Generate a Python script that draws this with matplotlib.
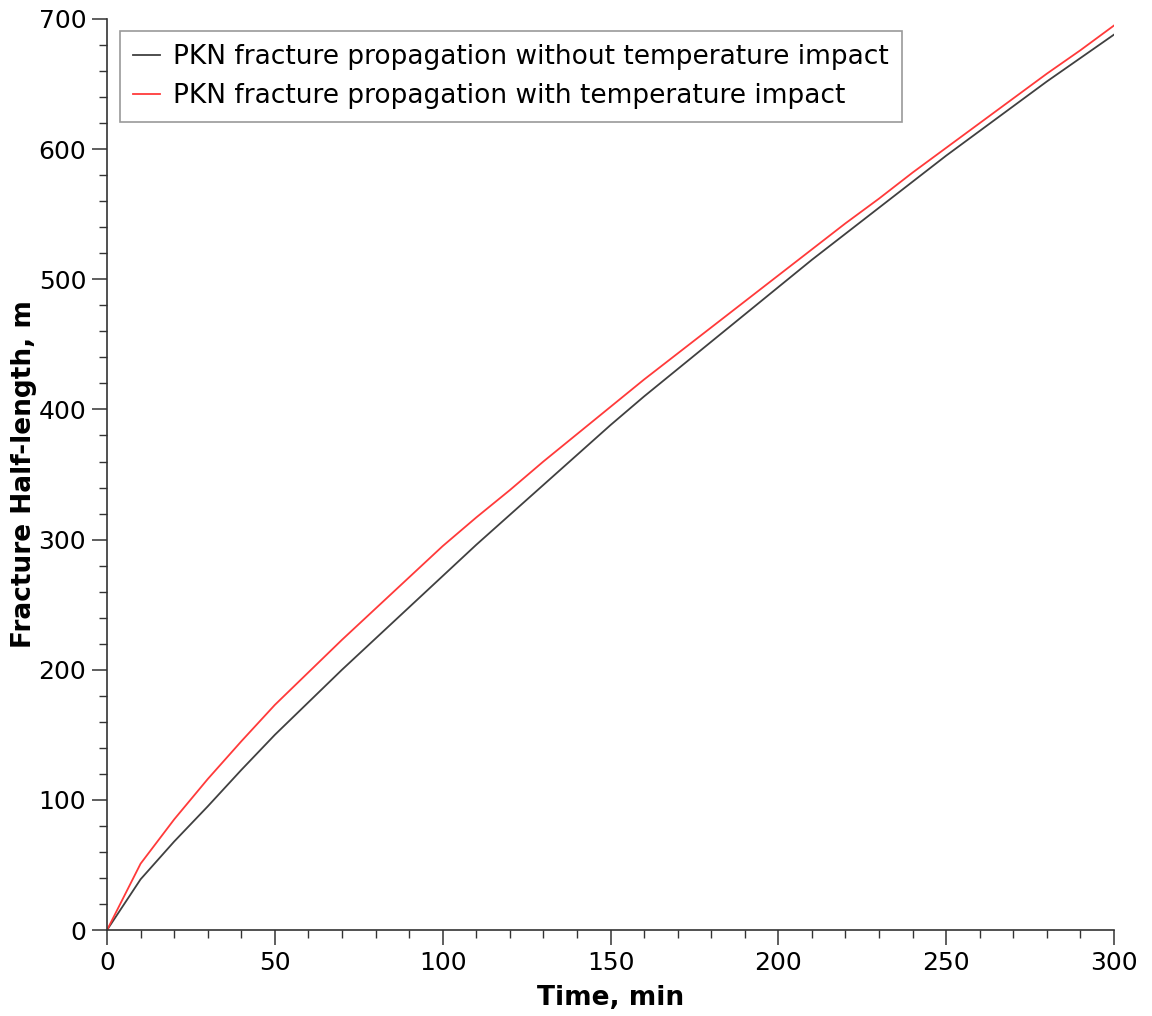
import numpy as np
import matplotlib.pyplot as plt
from matplotlib.ticker import MultipleLocator

# time axis, minutes
time_min = [0, 10, 20, 30, 40, 50, 60, 70, 80, 90, 100, 110, 120, 130, 140, 150,
            160, 170, 180, 190, 200, 210, 220, 230, 240, 250, 260, 270, 280, 290, 300]

# fracture half-length, m
len_no_temp = [0, 39, 68, 95, 123, 150, 175, 200, 224, 248, 272, 296, 319, 342, 365, 388,
               410, 431, 452, 473, 494, 515, 535, 555, 575, 595, 614, 633, 652, 670, 688]
len_with_temp = [0, 51, 85, 116, 145, 173, 198, 223, 247, 271, 295, 317, 338, 360, 381, 402,
                 423, 443, 463, 483, 503, 523, 543, 562, 582, 601, 620, 639, 658, 676, 695]

labels = ["PKN fracture propagation without temperature impact",
          "PKN fracture propagation with temperature impact"]

plt.rcParams['font.family'] = ['DejaVu Sans']

fig = plt.figure(figsize=(11.52, 10.16), dpi=100)
ax = fig.add_axes([0.0929, 0.0846, 0.8741, 0.8967])

ax.plot(time_min, len_no_temp, color='#404040', lw=1.3, label=labels[0])
ax.plot(time_min, len_with_temp, color='#ff3a3a', lw=1.3, label=labels[1])

ax.set_xlim(0, 300)
ax.set_ylim(0, 700)
ax.xaxis.set_major_locator(MultipleLocator(50))
ax.xaxis.set_minor_locator(MultipleLocator(10))
ax.yaxis.set_major_locator(MultipleLocator(100))
ax.yaxis.set_minor_locator(MultipleLocator(20))

for s in ['top', 'right']:
    ax.spines[s].set_visible(False)
for s in ['left', 'bottom']:
    ax.spines[s].set_color('#333333')
    ax.spines[s].set_linewidth(1.2)

ax.tick_params(which='major', direction='out', length=11, width=1.1, colors='#333333',
               labelsize=18, labelcolor='black', pad=4)
ax.tick_params(which='minor', direction='out', length=6, width=1.0, colors='#333333')

ax.set_xlabel("Time, min", fontsize=19, fontweight='bold', labelpad=7)
ax.set_ylabel("Fracture Half-length, m", fontsize=19, fontweight='bold', labelpad=1)

leg = ax.legend(loc='upper left', bbox_to_anchor=(0.0129, 0.987), borderaxespad=0,
                fontsize=19, frameon=True, fancybox=False, handlelength=1.0,
                handletextpad=0.5, borderpad=0.5, labelspacing=0.5)
leg.get_frame().set_edgecolor('#808080')
leg.get_frame().set_linewidth(1.2)

fig.savefig("out.png", dpi=100)
